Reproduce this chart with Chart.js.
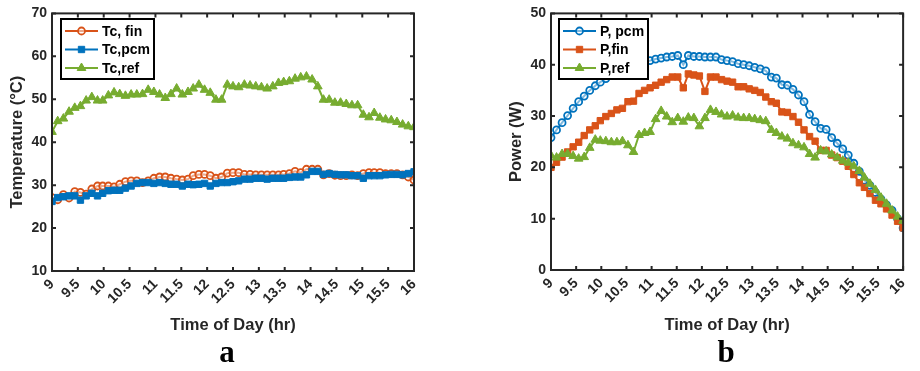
<!DOCTYPE html>
<html>
<head>
<meta charset="utf-8">
<script src="https://cdn.jsdelivr.net/npm/chart.js@4.4.1/dist/chart.umd.min.js"></script>
<style>
  body { margin: 0; background: #fff; width: 920px; height: 371px; position: relative; overflow: hidden; }
  .box { position: absolute; top: 0; width: 460px; height: 336px; }
  .lab { position: absolute; top: 334px; font: bold 31px "Liberation Serif", "Times New Roman", serif; color: #000; transform: translateX(-50%); }
</style>
</head>
<body>
<div class="box" style="left:0"><canvas id="chartA"></canvas></div>
<div class="box" style="left:460px"><canvas id="chartB"></canvas></div>
<div class="lab" style="left:227px">a</div>
<div class="lab" style="left:726px">b</div>
<script>
// time of day (hr)
const TIMES = [9.00, 9.11, 9.22, 9.33, 9.44, 9.55, 9.66, 9.77, 9.88, 9.98,
  10.09, 10.20, 10.31, 10.42, 10.53, 10.64, 10.75, 10.86, 10.97, 11.08,
  11.19, 11.30, 11.41, 11.52, 11.63, 11.73, 11.84, 11.95, 12.06, 12.17,
  12.28, 12.39, 12.50, 12.61, 12.72, 12.83, 12.94, 13.05, 13.16, 13.27,
  13.38, 13.48, 13.59, 13.70, 13.81, 13.92, 14.03, 14.14, 14.25, 14.36,
  14.47, 14.58, 14.69, 14.80, 14.91, 15.02, 15.13, 15.23, 15.34, 15.45,
  15.56, 15.67, 15.78, 15.89, 16.00];

// cell temperature (°C)
const TC_FIN = [27.1, 26.6, 27.8, 27.0, 28.5, 28.3, 27.9, 29.1, 29.8, 29.8,
  29.8, 29.6, 30.2, 30.8, 31.0, 31.0, 30.6, 31.0, 31.6, 31.9,
  31.9, 31.6, 31.4, 31.2, 31.4, 32.2, 32.5, 32.5, 32.2, 31.6,
  31.9, 32.8, 32.9, 32.9, 32.5, 32.5, 32.4, 32.4, 32.4, 32.4,
  32.4, 32.5, 32.7, 33.2, 32.9, 33.7, 33.7, 33.7, 32.4, 32.7,
  32.3, 32.2, 32.2, 32.4, 32.2, 32.7, 32.9, 32.9, 32.9, 32.7,
  32.7, 32.7, 32.4, 31.9, 31.2];
const TC_PCM = [26.2, 27.1, 27.3, 27.5, 27.5, 26.5, 27.5, 28.1, 27.5, 28.1,
  28.7, 28.8, 28.8, 29.3, 29.8, 30.4, 30.6, 30.6, 30.4, 30.6,
  30.4, 30.2, 30.2, 29.8, 30.2, 30.1, 30.2, 30.4, 29.8, 30.4,
  30.6, 30.6, 30.8, 31.0, 31.4, 31.4, 31.6, 31.6, 31.4, 31.6,
  31.6, 31.6, 31.8, 31.9, 31.9, 32.4, 33.2, 33.2, 32.5, 32.7,
  32.5, 32.4, 32.4, 32.2, 32.2, 31.6, 32.2, 32.2, 32.2, 32.4,
  32.5, 32.5, 32.4, 32.7, 33.1];
const TC_REF = [42.4, 44.9, 45.5, 47.1, 48.0, 48.4, 49.7, 50.5, 49.7, 49.7,
  50.9, 51.6, 51.2, 50.8, 51.1, 51.1, 51.2, 52.2, 51.7, 51.1,
  50.3, 51.2, 52.5, 51.1, 51.7, 52.5, 53.4, 52.2, 51.5, 49.9,
  49.9, 53.4, 53.0, 52.8, 53.4, 53.2, 53.0, 52.8, 52.5, 53.0,
  53.8, 54.0, 54.2, 54.8, 55.1, 55.3, 54.6, 53.0, 49.9, 49.9,
  49.2, 49.2, 48.9, 48.6, 48.6, 46.4, 45.8, 46.8, 45.7, 45.3,
  45.1, 44.7, 44.1, 43.7, 43.5];

// power output (W)
const P_PCM = [25.8, 27.3, 28.7, 30.1, 31.5, 32.8, 33.9, 35.0, 35.9, 36.6,
  37.3, 37.9, 38.5, 39.0, 39.5, 39.9, 40.2, 40.5, 40.8, 41.1,
  41.3, 41.5, 41.6, 41.8, 40.0, 41.8, 41.6, 41.6, 41.5, 41.5,
  41.5, 41.0, 40.8, 40.6, 40.2, 40.0, 39.8, 39.5, 39.2, 38.8,
  37.6, 37.4, 36.1, 36.0, 35.2, 34.1, 32.8, 30.3, 28.9, 27.6,
  27.4, 25.8, 24.7, 23.6, 22.4, 20.8, 19.2, 17.5, 16.5, 15.1,
  13.8, 12.7, 11.6, 10.0, 8.2];
const P_FIN = [20.0, 21.0, 22.0, 23.0, 24.0, 24.9, 26.2, 27.3, 28.1, 29.1,
  29.9, 30.5, 31.2, 31.5, 32.8, 32.9, 34.4, 35.0, 35.5, 36.0,
  36.6, 37.1, 37.6, 37.6, 35.5, 38.2, 38.0, 37.8, 34.8, 37.6,
  37.6, 37.1, 36.8, 36.6, 35.7, 35.7, 35.3, 35.0, 34.6, 33.7,
  32.8, 32.5, 30.8, 30.7, 29.9, 28.8, 27.3, 26.0, 25.1, 23.3,
  23.3, 22.4, 21.9, 21.2, 20.2, 18.6, 17.0, 16.1, 14.9, 13.6,
  12.9, 11.9, 10.7, 9.5, 8.2];
const P_REF = [22.3, 21.9, 22.6, 22.6, 22.2, 21.7, 22.0, 23.8, 25.4, 25.2,
  25.1, 24.9, 24.9, 25.1, 24.3, 23.0, 26.3, 26.7, 26.9, 29.4,
  31.0, 29.9, 28.8, 29.6, 28.9, 29.7, 29.6, 28.0, 29.6, 31.2,
  30.8, 30.3, 29.9, 30.1, 29.7, 29.6, 29.6, 29.4, 29.2, 29.0,
  27.3, 26.7, 26.0, 25.6, 24.7, 24.3, 23.9, 22.6, 21.9, 23.3,
  23.1, 22.5, 21.9, 21.3, 20.9, 20.2, 19.3, 18.0, 16.8, 15.6,
  14.1, 12.9, 11.6, 10.4, 9.6];

const BLUE = '#0072BD';
const ORANGE = '#D95319';
const GREEN = '#77AC30';
const AXIS = '#262626';
const FONT = '"Liberation Sans", Arial, sans-serif';

Chart.defaults.font.family = FONT;
Chart.defaults.font.weight = 'bold';
Chart.defaults.color = AXIS;

const toPoints = (ys) => ys.map((y, i) => ({ x: TIMES[i], y }));

function series(label, ys, color, style, order) {
  const fill = style === 'circle' ? 'rgba(255,255,255,0.5)' : color;
  return {
    label,
    data: toPoints(ys),
    borderColor: color,
    backgroundColor: fill,
    borderWidth: 2,
    pointStyle: style,
    pointRadius: style === 'circle' ? 3.5 : style === 'rect' ? 4.5 : 5,
    pointBorderColor: color,
    pointBackgroundColor: fill,
    pointBorderWidth: style === 'circle' ? 1.8 : 1,
    tension: 0,
    order,
  };
}

// MATLAB-like box with inward ticks plus a boxed legend in the corner
const boxPlugin = {
  id: 'boxAxes',
  afterDatasetsDraw(chart, args, opts) {
    const { ctx, chartArea: a, scales } = chart;
    ctx.save();
    ctx.strokeStyle = AXIS;
    ctx.lineWidth = 2;
    ctx.strokeRect(a.left, a.top, a.right - a.left, a.bottom - a.top);
    const tl = 4;
    ctx.beginPath();
    scales.x.ticks.forEach((t) => {
      const px = scales.x.getPixelForValue(t.value);
      ctx.moveTo(px, a.bottom); ctx.lineTo(px, a.bottom - tl);
      ctx.moveTo(px, a.top); ctx.lineTo(px, a.top + tl);
    });
    scales.y.ticks.forEach((t) => {
      const py = scales.y.getPixelForValue(t.value);
      ctx.moveTo(a.left, py); ctx.lineTo(a.left + tl, py);
      ctx.moveTo(a.right, py); ctx.lineTo(a.right - tl, py);
    });
    ctx.stroke();

    // legend
    const lg = opts.legend;
    ctx.fillStyle = '#fff';
    ctx.fillRect(lg.x, lg.y, lg.w, lg.h);
    ctx.lineWidth = 2;
    ctx.strokeStyle = '#000';
    ctx.strokeRect(lg.x, lg.y, lg.w, lg.h);
    ctx.font = 'bold 14px ' + FONT;
    ctx.textBaseline = 'middle';
    chart.data.datasets.forEach((ds, i) => {
      const cy = lg.y + 12 + i * 18.5;
      const x0 = lg.x + 4, x1 = lg.x + 37;
      ctx.strokeStyle = ds.borderColor;
      ctx.lineWidth = 2;
      ctx.beginPath(); ctx.moveTo(x0, cy); ctx.lineTo(x1, cy); ctx.stroke();
      ctx.fillStyle = ds.pointBackgroundColor;
      ctx.strokeStyle = ds.pointBorderColor;
      ctx.lineWidth = ds.pointBorderWidth;
      Chart.helpers.drawPoint(ctx, { pointStyle: ds.pointStyle, radius: ds.pointRadius, rotation: 0, borderWidth: ds.pointBorderWidth }, (x0 + x1) / 2, cy);
      ctx.fillStyle = '#000';
      ctx.fillText(ds.label, lg.x + 41, cy + 1);
    });
    ctx.restore();
  },
};

function makeChart(id, datasets, yMin, yMax, yTitle, pad, yWidth, xHeight, legend, yTitlePad) {
  return new Chart(document.getElementById(id), {
    type: 'line',
    data: { datasets },
    plugins: [boxPlugin],
    options: {
      responsive: true,
      maintainAspectRatio: false,
      animation: false,
      layout: { padding: pad },
      plugins: {
        legend: { display: false },
        tooltip: { enabled: false },
        boxAxes: { legend },
      },
      scales: {
        x: {
          type: 'linear',
          min: 9,
          max: 16,
          ticks: {
            stepSize: 0.5, autoSkip: false, minRotation: 45, maxRotation: 45, padding: 5,
            font: { size: 14 }, callback: (v) => String(v),
          },
          grid: { display: false, drawTicks: false },
          border: { display: false },
          title: { display: true, text: 'Time of Day (hr)', font: { size: 16.5 }, color: AXIS, padding: { top: 0, bottom: 1 } },
          afterFit: (s) => { s.height = xHeight; },
        },
        y: {
          min: yMin,
          max: yMax,
          ticks: { stepSize: 10, padding: 5, font: { size: 14 } },
          grid: { display: false, drawTicks: false },
          border: { display: false },
          title: { display: true, text: yTitle, font: { size: 16.5 }, color: AXIS, padding: { top: yTitlePad, bottom: 0 } },
          afterFit: (s) => { s.width = yWidth; },
        },
      },
    },
  });
}

makeChart('chartA', [
  series('Tc, fin', TC_FIN, ORANGE, 'circle', 3),
  series('Tc,pcm', TC_PCM, BLUE, 'rect', 2),
  series('Tc,ref', TC_REF, GREEN, 'triangle', 1),
], 10, 70, 'Temperature (°C)', { left: 8, right: 46, top: 12, bottom: 0 }, 44, 65,
  { x: 61, y: 19, w: 93, h: 60 }, 0);

makeChart('chartB', [
  series('P, pcm', P_PCM, BLUE, 'circle', 3),
  series('P,fin', P_FIN, ORANGE, 'rect', 2),
  series('P,ref', P_REF, GREEN, 'triangle', 1),
], 0, 50, 'Power (W)', { left: 40, right: 9, top: 11, bottom: 0 }, 51, 66,
  { x: 99, y: 19, w: 89, h: 60 }, 7);
</script>
</body>
</html>
